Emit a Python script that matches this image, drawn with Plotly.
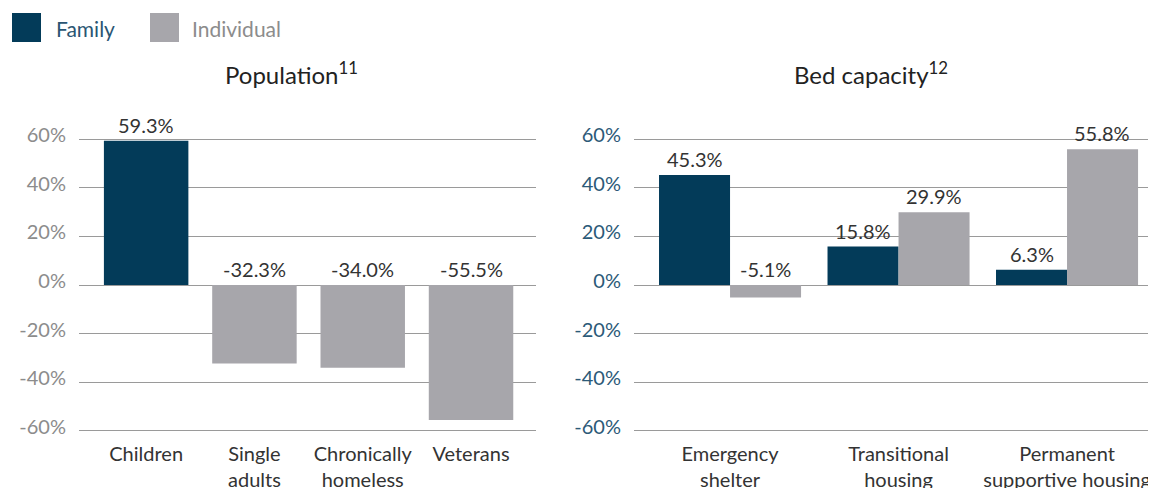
import plotly.graph_objects as go

# data
pop_categories = ["Children", "Single<br>adults", "Chronically<br>homeless", "Veterans"]
pop_groups = ["Family", "Individual", "Individual", "Individual"]
pop_values = [59.3, -32.3, -34.0, -55.5]

bed_categories = ["Emergency<br>shelter", "Transitional<br>housing", "Permanent<br>supportive housing"]
bed_family = [45.3, 15.8, 6.3]
bed_individual = [-5.1, 29.9, 55.8]

y_ticks = [-60, -40, -20, 0, 20, 40, 60]

FAMILY = "#033b59"
INDIV = "#a7a6ab"
FONT = "Lato"
OFF = 8  # page body margin
W, H = 1156 - OFF, 488 - OFF
MT, MB = 127 - OFF, 45


def px(x):
    # page pixel column -> paper x
    return (x - OFF) / W


def py(y):
    # page pixel row -> paper y
    return (H - MB - (y - OFF)) / (H - MT - MB)


colors = {"Family": FAMILY, "Individual": INDIV}

fig = go.Figure()
fig.add_trace(go.Bar(x=list(range(len(pop_values))), y=pop_values, width=0.78,
                     marker=dict(color=[colors[g] for g in pop_groups], line=dict(width=0)),
                     showlegend=False, hoverinfo="skip", xaxis="x", yaxis="y"))
fig.add_trace(go.Bar(x=list(range(len(bed_family))), y=bed_family, name="Family",
                     marker=dict(color=FAMILY, line=dict(width=0)),
                     showlegend=False, xaxis="x2", yaxis="y2"))
fig.add_trace(go.Bar(x=list(range(len(bed_individual))), y=bed_individual, name="Individual",
                     marker=dict(color=INDIV, line=dict(width=0)),
                     showlegend=False, xaxis="x2", yaxis="y2"))

label_font = dict(family=FONT, size=20, color="#333333")
annotations = []
for i, v in enumerate(pop_values):
    annotations.append(dict(x=i, y=max(v, 0), xref="x", yref="y", text=f"{v:.1f}%",
                            showarrow=False, yanchor="bottom", yshift=2, font=label_font))
for i, (f, ind) in enumerate(zip(bed_family, bed_individual)):
    for off, v in ((-0.21, f), (0.21, ind)):
        annotations.append(dict(x=i + off, y=max(v, 0), xref="x2", yref="y2", text=f"{v:.1f}%",
                                showarrow=False, yanchor="bottom", yshift=2, font=label_font))

title_font = dict(family=FONT, size=24, color="#222222")
annotations.append(dict(x=px(291), y=py(73), xref="paper", yref="paper",
                        text="Population<sup>11</sup>", showarrow=False,
                        xanchor="center", yanchor="middle", font=title_font))
annotations.append(dict(x=px(871), y=py(73), xref="paper", yref="paper",
                        text="Bed capacity<sup>12</sup>", showarrow=False,
                        xanchor="center", yanchor="middle", font=title_font))

# legend
annotations.append(dict(x=px(54), y=py(28), xref="paper", yref="paper", text="Family",
                        showarrow=False, xanchor="left", yanchor="middle",
                        font=dict(family=FONT, size=21, color="#2a5573")))
annotations.append(dict(x=px(190), y=py(28), xref="paper", yref="paper", text="Individual",
                        showarrow=False, xanchor="left", yanchor="middle",
                        font=dict(family=FONT, size=21, color="#8c8c8c")))
shapes = [
    dict(type="rect", xref="paper", yref="paper", x0=px(12), x1=px(41), y0=py(42), y1=py(13),
         fillcolor=FAMILY, line=dict(width=0)),
    dict(type="rect", xref="paper", yref="paper", x0=px(150), x1=px(179), y0=py(42), y1=py(13),
         fillcolor=INDIV, line=dict(width=0)),
]

yax = dict(range=[-65, 65], tickvals=y_ticks, ticktext=[f"{t}%" for t in y_ticks],
           showgrid=True, gridcolor="#9a9a9a", gridwidth=1, zeroline=True,
           zerolinecolor="#9a9a9a", zerolinewidth=1, showline=False, ticks="",
           ticklabelstandoff=12, ticklabelshift=-4, automargin=False, fixedrange=True)

xfont = dict(family=FONT, size=20, color="#333333")
fig.update_layout(
    width=W, height=H,
    margin=dict(l=0, r=0, t=MT, b=MB),
    paper_bgcolor="white", plot_bgcolor="white",
    barmode="group", bargap=0.157, bargroupgap=0,
    font=dict(family=FONT, size=19, color="#333333"),
    xaxis=dict(domain=[px(79), px(536)], range=[-0.62, 3.6], tickmode="array",
               tickvals=list(range(len(pop_categories))), ticktext=pop_categories,
               showgrid=False, zeroline=False, showline=False, ticks="",
               ticklabelstandoff=-3, automargin=False, tickfont=xfont),
    yaxis=dict(yax, anchor="x", tickfont=dict(family=FONT, size=20, color="#8c8c8c")),
    xaxis2=dict(domain=[px(634), 1.0], range=[-0.57, 2.528], tickmode="array",
                tickvals=list(range(len(bed_categories))), ticktext=bed_categories,
                showgrid=False, zeroline=False, showline=False, ticks="",
                ticklabelstandoff=-3, automargin=False, tickfont=xfont),
    yaxis2=dict(yax, anchor="x2", tickfont=dict(family=FONT, size=20, color="#2c5a78")),
    annotations=annotations,
    shapes=shapes,
)

fig.write_html("out.html")
